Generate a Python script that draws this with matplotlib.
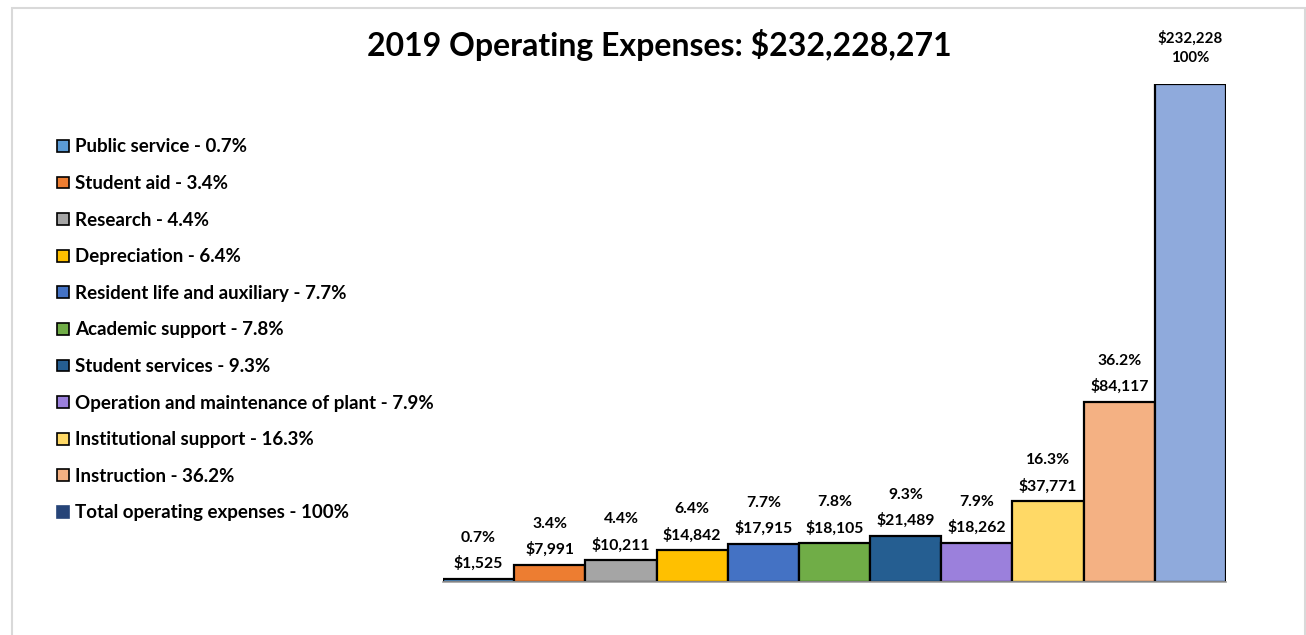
import matplotlib.pyplot as plt
from matplotlib.patches import Rectangle

categories = ["Public service", "Student aid", "Research", "Depreciation",
              "Resident life and auxiliary", "Academic support", "Student services",
              "Operation and maintenance of plant", "Institutional support",
              "Instruction", "Total operating expenses"]
values = [1525, 7991, 10211, 14842, 17915, 18105, 21489, 18262, 37771, 84117, 232228]
pct_labels = ["0.7%", "3.4%", "4.4%", "6.4%", "7.7%", "7.8%", "9.3%", "7.9%",
              "16.3%", "36.2%", "100%"]
value_labels = ["$1,525", "$7,991", "$10,211", "$14,842", "$17,915", "$18,105",
                "$21,489", "$18,262", "$37,771", "$84,117", "$232,228"]
colors = ["#5B9BD5", "#ED7D31", "#A5A5A5", "#FFC000", "#4472C4", "#70AD47",
          "#255E91", "#9B80DC", "#FFD966", "#F4B183", "#8FAADC"]
legend_colors = colors[:-1] + ["#264478"]
title = "2019 Operating Expenses: $232,228,271"

FONT = "Lato"
W, H = 1306, 635
fig = plt.figure(figsize=(W / 100, H / 100), dpi=100)

# frame
fig.add_artist(Rectangle((11.5 / W, -0.05), (1304.5 - 11.5) / W, 1 - 7.5 / H + 0.05,
                         transform=fig.transFigure, fill=False,
                         edgecolor="#D9D9D9", linewidth=1.5))

left, right, base, top = 443, 1226, 582, 84
ax = fig.add_axes([left / W, 1 - base / H, (right - left) / W, (base - top) / H])
x = list(range(len(values)))
ax.bar(x, values, width=1.0, color=colors, edgecolor="black", linewidth=1.6)
ax.set_xlim(-0.5, len(values) - 0.5)
ax.set_ylim(0, values[-1])
for s in ["top", "right", "left"]:
    ax.spines[s].set_visible(False)
ax.spines["bottom"].set_color("#A0A0A0")
ax.spines["bottom"].set_linewidth(1.2)
ax.set_xticks([])
ax.set_yticks([])
ax.patch.set_alpha(0)

for i, v in enumerate(values[:-1]):
    ax.annotate(f"{pct_labels[i]}\n{value_labels[i]}", (i, v), xytext=(0, 5.5),
                textcoords="offset points", ha="center", va="bottom",
                fontsize=11.3, fontweight="bold", family=FONT,
                linespacing=1.9, annotation_clip=False)
ax.annotate(f"{value_labels[-1]}\n{pct_labels[-1]}", (len(values) - 1, values[-1]),
            xytext=(0, 14), textcoords="offset points", ha="center", va="bottom",
            fontsize=10.8, fontweight="bold", family=FONT, linespacing=1.4,
            annotation_clip=False)

fig.text(659 / W, 1 - 45 / H, title, ha="center", va="center",
         fontsize=23, fontweight="bold", family=FONT)

handles = []
for i, lc in enumerate(legend_colors):
    ec = "black" if i < len(categories) - 1 else lc
    handles.append(Rectangle((0, 0), 1, 1, facecolor=lc, edgecolor=ec, linewidth=1.2))
leg_labels = [f"{c} - {p}" for c, p in zip(categories, pct_labels)]
leg = fig.legend(handles, leg_labels, loc="upper left",
                 bbox_to_anchor=(50 / W, 1 - 131 / H), frameon=False,
                 prop={"family": FONT, "weight": "bold", "size": 13.5},
                 handlelength=0.6, handleheight=0.6, handletextpad=0.35,
                 labelspacing=1.045, borderaxespad=0)

fig.savefig("out.png", dpi=100, facecolor="white")
